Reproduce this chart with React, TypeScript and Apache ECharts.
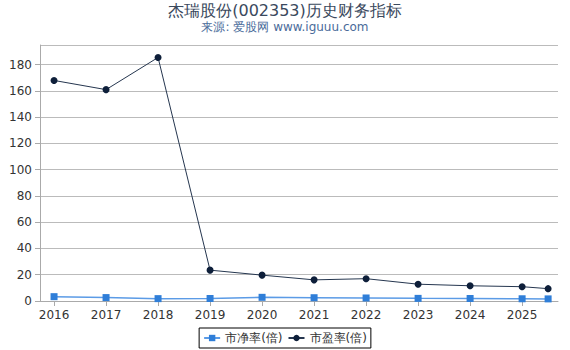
import React, { useEffect, useRef } from "react";
import * as echarts from "echarts";

const years = [2016, 2017, 2018, 2019, 2020, 2021, 2022, 2023, 2024, 2025, 2025.5];
const pbValues = [3.3, 2.6, 1.8, 1.9, 2.8, 2.5, 2.3, 2.0, 1.9, 1.7, 1.6];
const peValues = [168, 161, 185.5, 23.5, 19.7, 16.1, 17.0, 12.8, 11.6, 10.9, 9.4];
const yearTicks = [2016, 2017, 2018, 2019, 2020, 2021, 2022, 2023, 2024, 2025];

export default function App() {
  const ref = useRef<HTMLDivElement>(null);
  useEffect(() => {
    document.body.style.margin = "0";
    const chart = echarts.init(ref.current!, null, { renderer: "svg" });
    chart.setOption({
      animation: false,
      backgroundColor: "#fff",
      title: {
        text: "杰瑞股份(002353)历史财务指标",
        subtext: "来源: 爱股网 www.iguuu.com",
        left: "center",
        top: -3,
        itemGap: 3,
        textStyle: { fontSize: 16, fontWeight: "normal", color: "#3a495d", fontFamily: "DejaVu Sans" },
        subtextStyle: { fontSize: 12, color: "#4a6b9a", fontFamily: "DejaVu Sans" },
      },
      legend: {
        bottom: 2,
        left: "center",
        borderColor: "#000",
        borderWidth: 1,
        borderRadius: 0,
        padding: [4, 4],
        itemGap: 5,
        itemWidth: 16,
        itemHeight: 8,
        textStyle: { fontSize: 12, color: "#333", fontFamily: "DejaVu Sans" },
        data: ["市净率(倍)", "市盈率(倍)"],
      },
      grid: { left: 40, right: 12, top: 45, bottom: 49 },
      xAxis: {
        type: "value",
        min: 2015.73,
        max: 2025.69,
        splitLine: { show: false },
        axisLine: { lineStyle: { color: "#aaa" } },
        axisTick: { customValues: yearTicks, lineStyle: { color: "#aaa" }, length: 5 },
        axisLabel: {
          customValues: yearTicks,
          color: "#333",
          fontSize: 12,
          fontFamily: "DejaVu Sans",
          formatter: (v: number) => String(Math.round(v)),
        },
      },
      yAxis: {
        type: "value",
        min: 0,
        max: 195,
        interval: 20,
        axisLine: { show: true, lineStyle: { color: "#aaa" } },
        axisTick: { show: true, length: 5, lineStyle: { color: "#aaa" } },
        axisLabel: {
          color: "#333",
          fontSize: 12,
          fontFamily: "DejaVu Sans",
          showMaxLabel: false,
        },
        splitLine: { lineStyle: { color: "#bbb" } },
      },
      series: [
        {
          name: "市净率(倍)",
          type: "line",
          data: years.map((y, i) => [y, pbValues[i]]),
          symbol: "rect",
          symbolSize: 7,
          itemStyle: { color: "#2f7ed8" },
          lineStyle: { color: "#5b9be6", width: 1.5 },
        },
        {
          name: "市盈率(倍)",
          type: "line",
          data: years.map((y, i) => [y, peValues[i]]),
          symbol: "circle",
          symbolSize: 7,
          itemStyle: { color: "#0e1f3a" },
          lineStyle: { color: "#25364f", width: 1 },
        },
      ],
    });
    return () => chart.dispose();
  }, []);
  return (
    <div
      style={{
        position: "absolute",
        left: 0,
        top: 0,
        width: 570,
        height: 350,
        boxSizing: "border-box",
        borderTop: "1px solid #808080",
        borderLeft: "1px solid #808080",
        borderRight: "2px solid #808080",
        borderBottom: "2px solid #808080",
        background: "#fff",
      }}
    >
      <div ref={ref} style={{ position: "absolute", left: -1, top: -1, width: 570, height: 350 }} />
    </div>
  );
}
